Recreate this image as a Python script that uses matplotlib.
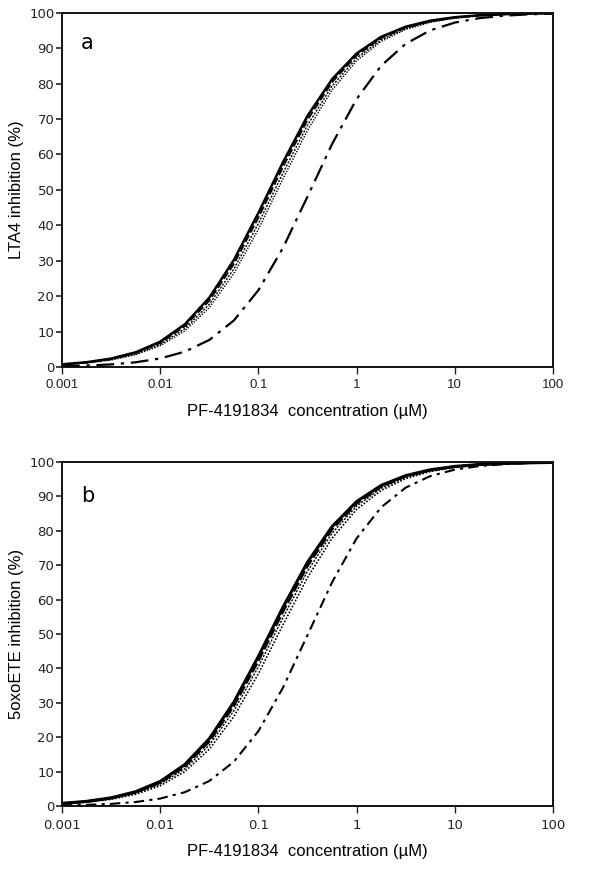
import matplotlib
matplotlib.use("Agg")
import matplotlib.pyplot as plt

# concentration grid (µM), quarter-decade steps
conc = [0.001, 0.001778, 0.003162, 0.005623, 0.01, 0.01778, 0.03162, 0.05623,
        0.1, 0.1778, 0.3162, 0.5623, 1, 1.778, 3.162, 5.623, 10, 17.78, 31.62,
        56.23, 100]

# Panel a: LTA4 inhibition (%)
a_solid = [0.76, 1.35, 2.38, 4.15, 7.14, 12.03, 19.56, 30.19, 43.48, 57.76, 70.87,
           81.22, 88.50, 93.19, 96.05, 97.74, 98.72, 99.27, 99.59, 99.77, 99.87]
a_dashed = [0.73, 1.28, 2.26, 3.94, 6.80, 11.49, 18.75, 29.10, 42.19, 56.48, 69.77,
            80.41, 87.95, 92.85, 95.85, 97.62, 98.65, 99.24, 99.57, 99.76, 99.86]
a_dense = [0.68, 1.20, 2.11, 3.68, 6.37, 10.79, 17.70, 27.67, 40.49, 54.74, 68.26,
           79.28, 87.18, 92.36, 95.56, 97.45, 98.55, 99.18, 99.54, 99.74, 99.85]
a_dotted = [0.63, 1.12, 1.97, 3.46, 5.99, 10.17, 16.76, 26.37, 38.91, 53.11, 66.82,
            78.17, 86.43, 91.89, 95.27, 97.28, 98.45, 99.12, 99.51, 99.72, 99.84]
a_dashdot = [0.22, 0.40, 0.73, 1.33, 2.41, 4.32, 7.63, 13.13, 21.67, 33.61, 48.10,
             62.91, 75.63, 85.03, 91.23, 95.01, 97.21, 98.46, 99.15, 99.53, 99.74]

# Panel b: 5oxoETE inhibition (%)
b_solid = [0.76, 1.35, 2.38, 4.15, 7.14, 12.03, 19.56, 30.19, 43.48, 57.76, 70.87,
           81.22, 88.50, 93.19, 96.05, 97.74, 98.72, 99.27, 99.59, 99.77, 99.87]
b_dashed = [0.73, 1.28, 2.26, 3.94, 6.80, 11.49, 18.75, 29.10, 42.19, 56.48, 69.77,
            80.41, 87.95, 92.85, 95.85, 97.62, 98.65, 99.24, 99.57, 99.76, 99.86]
b_dense = [0.68, 1.20, 2.11, 3.68, 6.37, 10.79, 17.70, 27.67, 40.49, 54.74, 68.26,
           79.28, 87.18, 92.36, 95.56, 97.45, 98.55, 99.18, 99.54, 99.74, 99.85]
b_dotted = [0.62, 1.10, 1.94, 3.40, 5.88, 10.00, 16.50, 26.00, 38.46, 52.64, 66.40,
            77.85, 86.21, 91.74, 95.18, 97.23, 98.43, 99.11, 99.50, 99.72, 99.84]
b_dashdot = [0.18, 0.33, 0.62, 1.16, 2.16, 4.00, 7.27, 12.87, 21.76, 34.38, 49.67,
             65.02, 77.79, 86.83, 92.55, 95.90, 97.78, 98.81, 99.36, 99.66, 99.82]

xticks = [0.001, 0.01, 0.1, 1, 10, 100]
xticklabels = ["0.001", "0.01", "0.1", "1", "10", "100"]
yticks = [0, 10, 20, 30, 40, 50, 60, 70, 80, 90, 100]

W, H = 600, 888
fig = plt.figure(figsize=(6.0, 8.88), dpi=100)

left = 62 / W
width = (553 - 62) / W
ax_a = fig.add_axes([left, 1 - 367 / H, width, (367 - 12.7) / H])
ax_b = fig.add_axes([left, 1 - 806 / H, width, (806 - 462) / H])

def style(ax, ylabel, letter, xtick_family, letter_y):
    ax.set_xscale("log")
    ax.set_xlim(0.001, 100)
    ax.set_ylim(0, 100)
    ax.set_xticks(xticks)
    ax.set_xticklabels(xticklabels, fontfamily=xtick_family, fontsize=9.5)
    ax.minorticks_off()
    ax.set_yticks(yticks)
    ax.set_yticklabels([str(v) for v in yticks], fontfamily="DejaVu Sans", fontsize=9.5)
    ax.tick_params(axis="y", direction="out", length=4, width=1.2, pad=1.5, colors="#222222")
    ax.tick_params(axis="x", direction="out", length=5, width=1.0, pad=4, colors="#222222")
    for s in ax.spines.values():
        s.set_linewidth(1.4)
        s.set_color("#111111")
    ax.set_ylabel(ylabel, fontfamily="Liberation Sans", fontsize=12, labelpad=4)
    ax.set_xlabel("PF-4191834  concentration (\u00b5M)", fontfamily="Liberation Sans",
                  fontsize=12, labelpad=9)
    ax.text(0.038, letter_y, letter, transform=ax.transAxes, fontsize=15,
            fontfamily="DejaVu Sans", va="center", ha="left")

kw = dict(color="black", solid_joinstyle="round", dash_joinstyle="round",
          solid_capstyle="round")
ax_a.plot(conc, a_solid, lw=1.8, ls="-", **kw)
ax_a.plot(conc, a_dashed, lw=1.4, ls=(0, (4, 1.5)), **kw)
ax_a.plot(conc, a_dense, lw=1.0, ls=(0, (1.5, 1)), **kw)
ax_a.plot(conc, a_dotted, lw=1.0, ls=(0, (1, 1)), **kw)
ax_a.plot(conc, a_dashdot, lw=1.6, ls=(0, (8, 3, 1.5, 3)), **kw)

ax_b.plot(conc, b_solid, lw=2.2, ls="-", **kw)
ax_b.plot(conc, b_dashed, lw=1.8, ls=(0, (4, 1.2)), **kw)
ax_b.plot(conc, b_dense, lw=1.0, ls=(0, (1.5, 1)), **kw)
ax_b.plot(conc, b_dotted, lw=1.2, ls=(0, (1, 1)), **kw)
ax_b.plot(conc, b_dashdot, lw=1.5, ls=(0, (5, 2.5, 1.5, 2.5)), **kw)

style(ax_a, "LTA4 inhibition (%)", "a", "Liberation Sans", 0.915)
style(ax_b, "5oxoETE inhibition (%)", "b", "DejaVu Sans", 0.9)

fig.savefig("out.png", dpi=100)
